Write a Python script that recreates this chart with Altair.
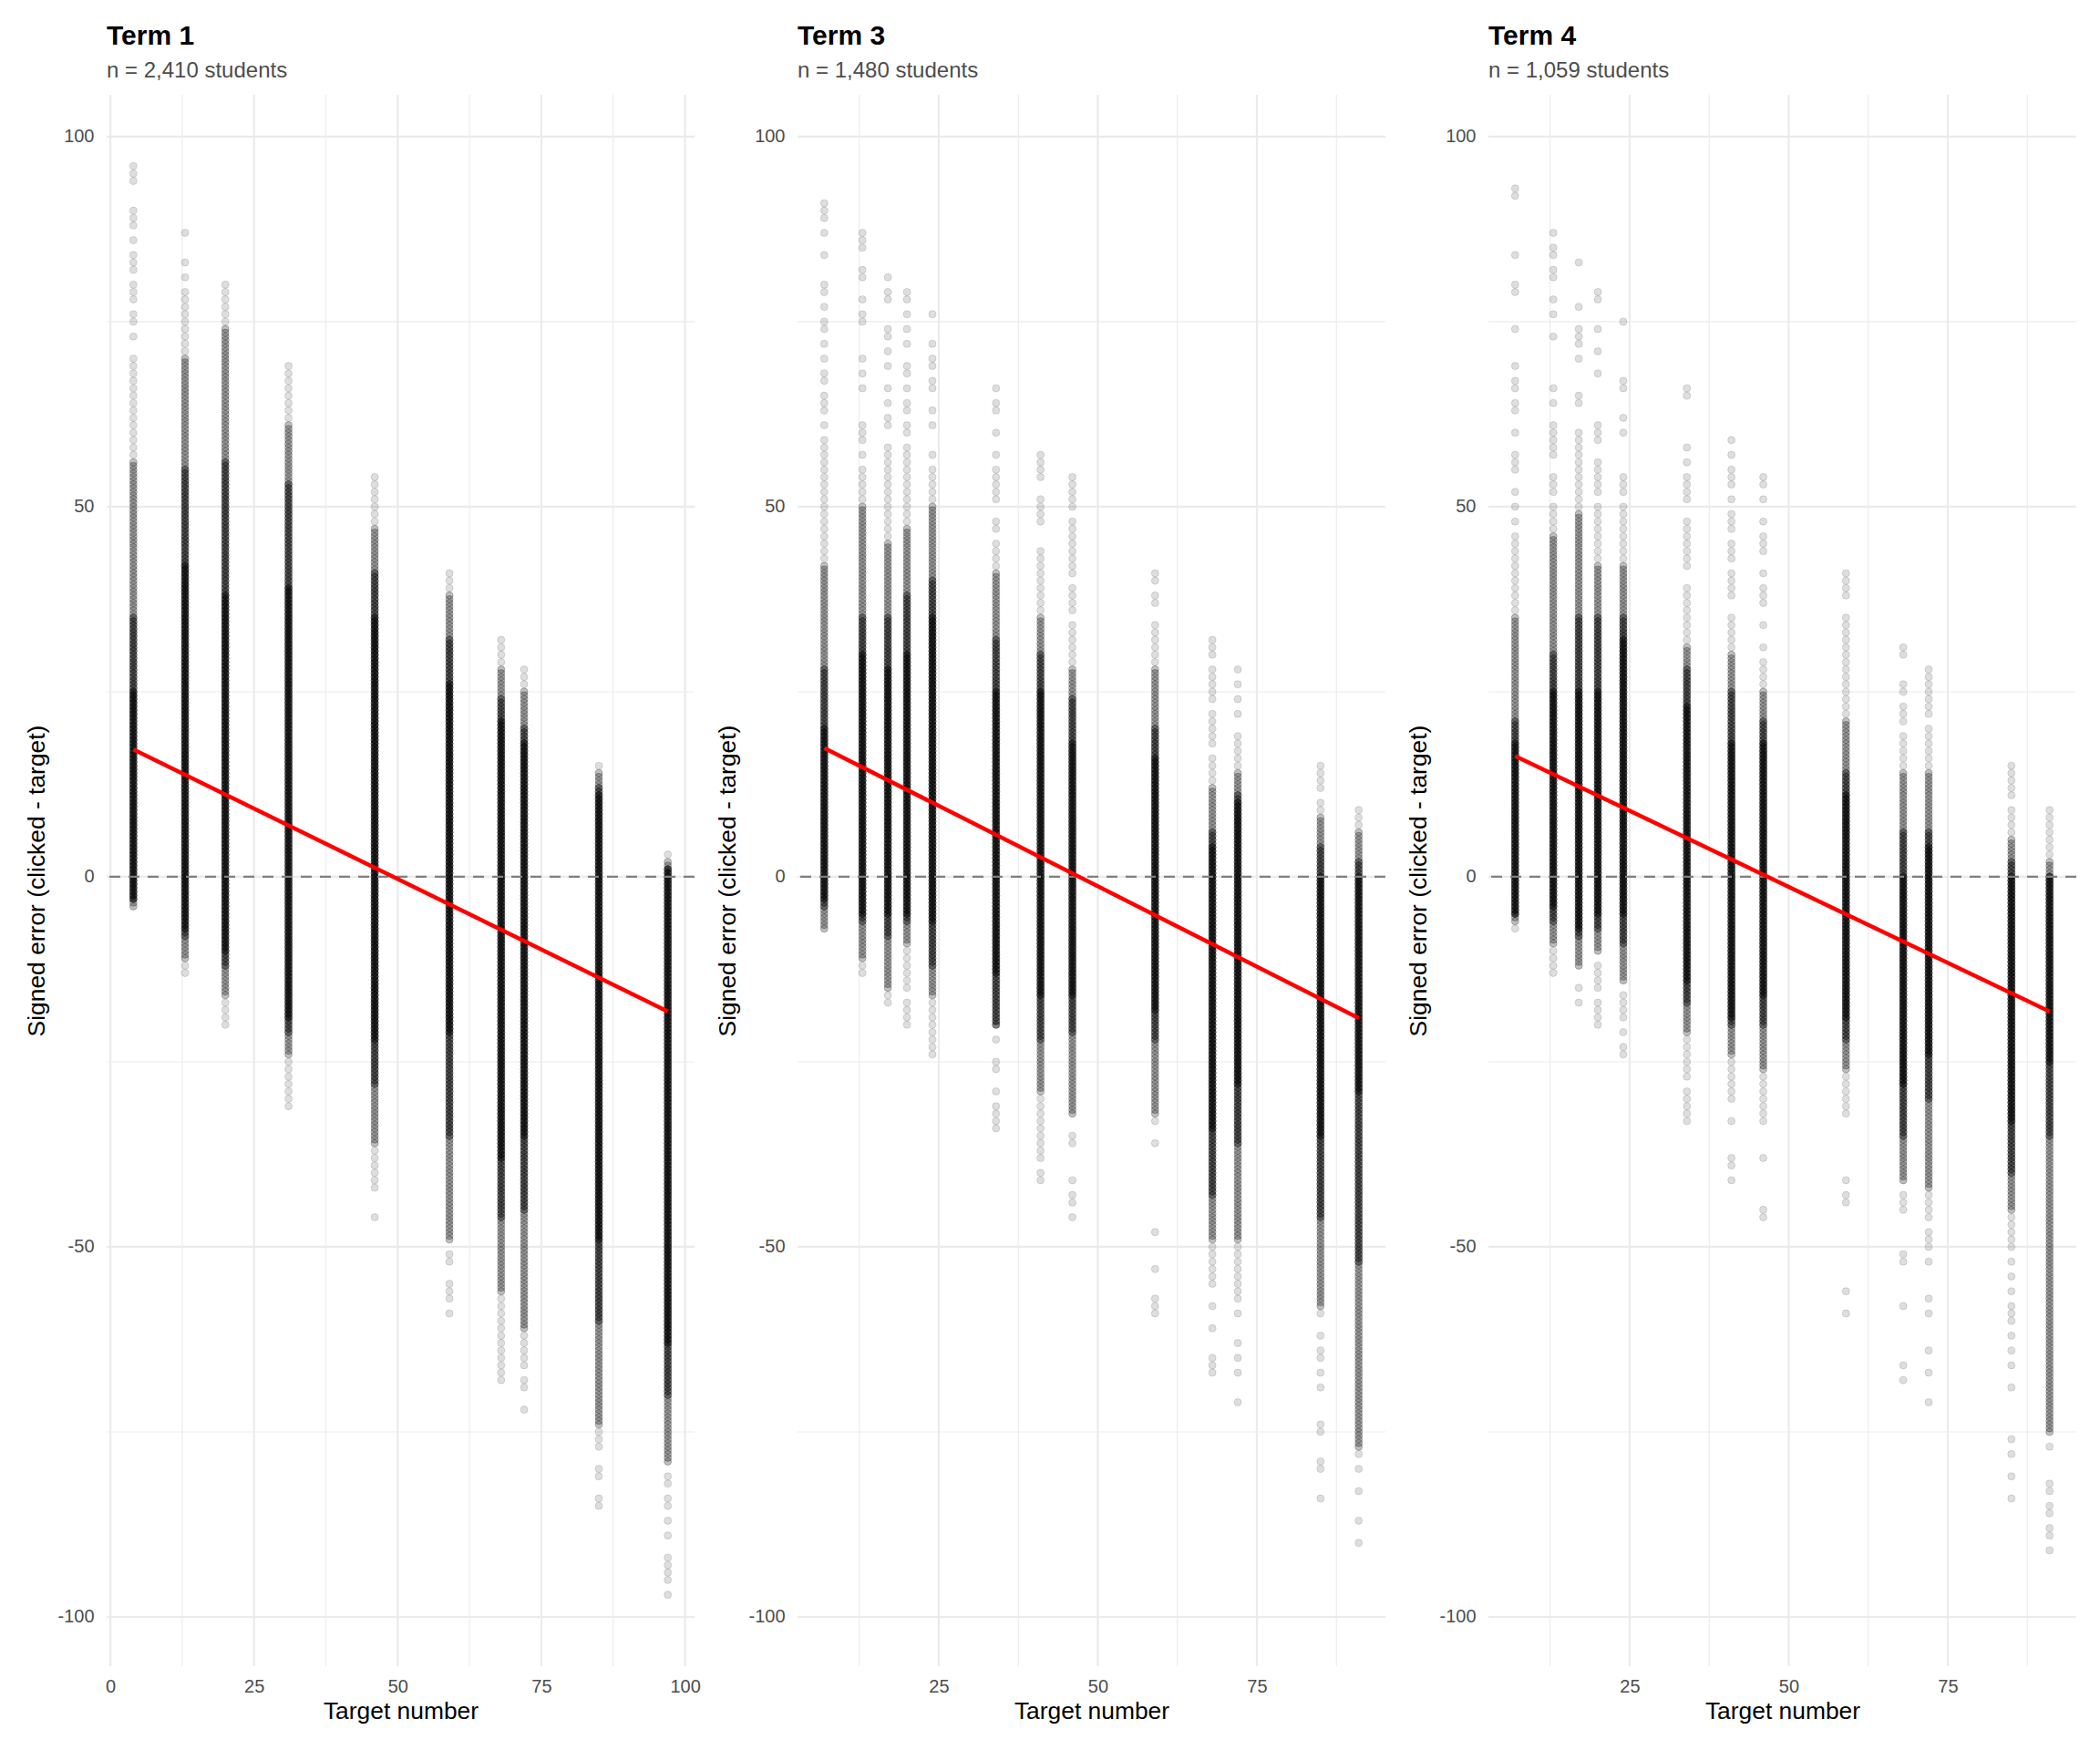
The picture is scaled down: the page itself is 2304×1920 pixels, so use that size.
import altair as alt
import pandas as pd

FONT = "Liberation Sans"

panel_titles = ["Term 1", "Term 3", "Term 4"]
panel_subtitles = ["n = 2,410 students", "n = 1,480 students", "n = 1,059 students"]

# ---- Term 1 (columns) ----
t1_targets = [4, 13, 20, 31, 46, 59, 68, 72, 85, 97]
t1_solid = [[-3, 25], [-7, 42], [-10, 38], [-19, 39], [-22, 35], [-21, 26], [-38, 21], [-35, 18], [-49, 11], [-63, 1]]
t1_dark = [[-3, 35], [-8, 55], [-12, 56], [-21, 53], [-28, 41], [-35, 32], [-46, 24], [-45, 20], [-60, 12], [-70, 1]]
t1_medium = [[-4, 56], [-11, 70], [-16, 74], [-24, 61], [-36, 47], [-49, 38], [-56, 28], [-61, 25], [-74, 14], [-79, 2]]
t1_light = [[-4, 70], [-13, 79], [-20, 80], [-31, 69], [-42, 54], [-49, 41], [-68, 32], [-66, 28], [-77, 15], [-79, 3]]
t1_outliers = [
    [96, 95, 94, 90, 89, 88, 86, 84, 83, 82, 80, 79, 78, 76, 75, 73],
    [81, 83, 87],
    [],
    [],
    [-46],
    [-51, -52, -55, -56, -57, -59],
    [],
    [-68, -69, -72],
    [-80, -81, -84, -85],
    [-81, -82, -84, -85, -87, -89, -92, -93, -94, -95, -97],
]

# ---- Term 3 ----
t3_targets = [7, 13, 17, 20, 24, 34, 41, 46, 59, 68, 72, 85, 91]
t3_solid = [[-3, 20], [-5, 30], [-5, 28], [-5, 30], [-6, 35], [-13, 25], [-16, 25], [-16, 18], [-18, 16], [-34, 4], [-28, 10], [-35, 0], [-29, 0]]
t3_dark = [[-4, 28], [-6, 35], [-8, 35], [-6, 38], [-12, 40], [-20, 32], [-22, 30], [-21, 24], [-22, 20], [-43, 6], [-36, 11], [-46, 4], [-52, 2]]
t3_medium = [[-7, 42], [-11, 50], [-15, 45], [-9, 47], [-16, 50], [-20, 41], [-29, 35], [-32, 28], [-32, 28], [-49, 12], [-49, 14], [-58, 8], [-77, 6]]
t3_light = [[-7, 59], [-13, 55], [-15, 57], [-9, 57], [-24, 55], [-20, 45], [-38, 40], [-32, 34], [-32, 33], [-55, 16], [-57, 18], [-58, 9], [-78, 8]]
t3_outliers = [
    [91, 90, 89, 87, 84, 80, 79, 77, 75, 74, 72, 70, 68, 67, 65, 64, 63, 61],
    [87, 86, 85, 82, 81, 78, 76, 75, 70, 68, 66, 61, 60, 59, 57],
    [81, 79, 78, 74, 73, 71, 69, 66, 64, 62, 61, 58, -16, -17],
    [79, 78, 76, 74, 72, 69, 68, 66, 64, 63, 61, 60, 58, -10, -11, -12, -13, -14, -15, -17, -18, -19, -20],
    [76, 72, 70, 69, 67, 66, 63, 61, 57],
    [66, 64, 63, 60, 57, 55, 54, 53, 52, 51, 48, 47, -22, -25, -26, -29, -31, -32, -33, -34],
    [57, 56, 55, 54, 51, 50, 49, 48, 44, 43, 42, 41, -40, -41],
    [54, 53, 52, 51, 50, 48, 47, 46, 45, 44, 43, 42, 41, 39, 38, 37, 36, -35, -36, -41, -43, -44, -46],
    [41, 40, 38, 37, 34, -33, -36, -48, -53, -57, -58, -59],
    [32, 31, 30, 28, 27, 26, 25, 24, 22, 21, 20, 19, 18, -58, -61, -65, -66, -67],
    [28, 26, 24, 22, 19, -59, -63, -65, -67, -71],
    [15, 14, 13, 12, 10, -59, -62, -64, -65, -67, -69, -74, -75, -79, -80, -84],
    [9, -80, -83, -87, -90],
]

# ---- Term 4 ----
t4_targets = [7, 13, 17, 20, 24, 34, 41, 46, 59, 68, 72, 85, 91]
t4_solid = [[-5, 18], [-4, 25], [-7, 25], [-5, 25], [-5, 32], [-14, 23], [-19, 18], [-16, 18], [-19, 11], [-28, 0], [-24, 4], [-33, 0], [-25, 0]]
t4_dark = [[-5, 21], [-6, 30], [-8, 35], [-7, 35], [-9, 35], [-17, 28], [-20, 25], [-20, 21], [-22, 14], [-35, 6], [-30, 6], [-40, 2], [-35, 0]]
t4_medium = [[-6, 35], [-9, 46], [-12, 49], [-10, 42], [-14, 42], [-21, 31], [-24, 30], [-26, 25], [-26, 21], [-41, 14], [-42, 14], [-45, 5], [-75, 2]]
t4_light = [[-6, 46], [-10, 50], [-12, 60], [-10, 50], [-14, 50], [-27, 35], [-24, 35], [-32, 29], [-32, 35], [-41, 19], [-43, 20], [-45, 8], [-75, 5]]
t4_outliers = [
    [93, 92, 84, 80, 79, 74, 69, 67, 66, 64, 63, 60, 57, 56, 55, 52, 50, 48, -7],
    [87, 85, 84, 82, 81, 78, 76, 73, 66, 64, 61, 60, 59, 58, 57, 54, 53, 52, -11, -12, -13],
    [83, 77, 74, 73, 72, 70, 65, 64, -15, -17],
    [79, 78, 74, 71, 68, 61, 60, 59, 56, 55, 54, 53, 52, -12, -13, -14, -15, -17, -18, -19, -20],
    [75, 67, 66, 62, 60, 54, 53, 52, -16, -17, -18, -19, -21, -23, -24],
    [66, 65, 58, 56, 54, 53, 52, 51, 48, 47, 46, 45, 44, 43, 42, 39, 38, 37, 36, -29, -30, -31, -32, -33],
    [59, 57, 55, 54, 53, 51, 49, 48, 47, 45, 44, 43, 41, 40, 39, 38, -25, -26, -27, -28, -29, -30, -33, -38, -39, -41],
    [54, 53, 51, 48, 46, 45, 44, 41, 39, 38, 37, 34, 31, -33, -38, -45, -46],
    [41, 40, 39, 38, -41, -43, -44, -56, -59],
    [31, 30, 26, 25, 23, 22, 21, -43, -44, -45, -51, -52, -58, -66, -68],
    [28, 27, 26, 25, 24, 23, 22, -44, -45, -46, -48, -49, -50, -52, -57, -59, -64, -67, -71],
    [15, 14, 13, 12, 11, 9, -46, -47, -48, -49, -50, -52, -54, -56, -58, -59, -60, -62, -64, -66, -69, -76, -78, -81, -84],
    [9, 8, 7, 6, -77, -82, -83, -85, -86, -88, -89, -91],
]

# Linear fit end points
fit_x = [[4, 97], [7, 91], [7, 91]]
fit_y = [[17.2, -18.2], [17.4, -19.1], [16.3, -18.2]]

# Axes
x_domains = [[-0.65, 101.65], [2.8, 95.2], [2.8, 95.2]]
y_domain = [-106.65, 105.65]
x_major = [[0, 25, 50, 75, 100], [25, 50, 75], [25, 50, 75]]
x_minor = [[12.5, 37.5, 62.5, 87.5], [12.5, 37.5, 62.5, 87.5], [12.5, 37.5, 62.5, 87.5]]
y_major = [-100, -50, 0, 50, 100]
y_minor = [-75, -25, 25, 75]

# opacity for density levels 1 (sparse) .. 4 (solid)
level_alpha = {1: 0.18, 2: 0.36, 3: 0.7, 4: 1.0}


def build_points(targets, solid, dark, medium, light, outliers):
    rows = []
    for i, t in enumerate(targets):
        lo, hi = light[i]
        # dense clicks are recorded at half-unit resolution, sparse ones at whole units
        for h in range(2 * lo, 2 * hi + 1):
            v = h / 2
            if solid[i][0] <= v <= solid[i][1]:
                lvl = 4
            elif dark[i][0] <= v <= dark[i][1]:
                lvl = 3
            elif medium[i][0] <= v <= medium[i][1]:
                lvl = 2
            else:
                lvl = 1
            if lvl == 1 and h % 2:
                continue
            rows.append({"target": t, "error": v, "alpha": level_alpha[lvl]})
        for v in outliers[i]:
            if not (lo <= v <= hi):
                rows.append({"target": t, "error": v, "alpha": level_alpha[1]})
    return pd.DataFrame(rows)


points = [
    build_points(t1_targets, t1_solid, t1_dark, t1_medium, t1_light, t1_outliers),
    build_points(t3_targets, t3_solid, t3_dark, t3_medium, t3_light, t3_outliers),
    build_points(t4_targets, t4_solid, t4_dark, t4_medium, t4_light, t4_outliers),
]

PW, PH = 645, 1724
GRID = "#ebebeb"
LABEL_EXPR = "datum.value < 0 ? '-' + format(-datum.value, 'd') : format(datum.value, 'd')"


def panel(k):
    xs = alt.Scale(domain=x_domains[k], nice=False, zero=False)
    ys = alt.Scale(domain=y_domain, nice=False, zero=False)
    xaxis = alt.Axis(values=x_major[k], title="Target number", grid=False, ticks=False, tickSize=0,
                     domain=False, labelPadding=12, labelFontSize=20, labelColor="#4d4d4d",
                     titleFontSize=26.4, titleColor="black", titleFontWeight="normal", titlePadding=4,
                     labelFont=FONT, titleFont=FONT, labelExpr=LABEL_EXPR)
    yaxis = alt.Axis(values=y_major, title="Signed error (clicked - target)", grid=False, ticks=False,
                     tickSize=0, domain=False, labelPadding=14, labelFontSize=20, labelColor="#4d4d4d",
                     titleFontSize=26.4, titleColor="black", titleFontWeight="normal", titlePadding=8,
                     labelFont=FONT, titleFont=FONT, labelExpr=LABEL_EXPR)

    vmin = alt.Chart(pd.DataFrame({"v": x_minor[k]})).mark_rule(color=GRID, strokeWidth=1.1).encode(
        x=alt.X("v:Q", scale=xs, axis=xaxis))
    vmaj = alt.Chart(pd.DataFrame({"v": x_major[k]})).mark_rule(color=GRID, strokeWidth=2.2).encode(
        x=alt.X("v:Q", scale=xs, axis=xaxis))
    hmin = alt.Chart(pd.DataFrame({"v": y_minor})).mark_rule(color=GRID, strokeWidth=1.1).encode(
        y=alt.Y("v:Q", scale=ys, axis=yaxis))
    hmaj = alt.Chart(pd.DataFrame({"v": y_major})).mark_rule(color=GRID, strokeWidth=2.2).encode(
        y=alt.Y("v:Q", scale=ys, axis=yaxis))

    pts = alt.Chart(points[k]).mark_circle(color="black", stroke="black", strokeWidth=1, size=64).encode(
        x=alt.X("target:Q", scale=xs, axis=xaxis),
        y=alt.Y("error:Q", scale=ys, axis=yaxis),
        fillOpacity=alt.FillOpacity("alpha:Q", scale=None),
        strokeOpacity=alt.StrokeOpacity("alpha:Q", scale=None),
    )

    zero = alt.Chart(pd.DataFrame({"v": [0]})).mark_rule(color="#7f7f7f", strokeWidth=2.2, strokeDash=[12, 9]).encode(
        y=alt.Y("v:Q", scale=ys, axis=yaxis))

    fit = alt.Chart(pd.DataFrame({"x": fit_x[k], "y": fit_y[k]})).mark_line(color="#ff0000", strokeWidth=4.5).encode(
        x=alt.X("x:Q", scale=xs, axis=xaxis),
        y=alt.Y("y:Q", scale=ys, axis=yaxis),
    )

    return alt.layer(vmin, vmaj, hmin, hmaj, pts, zero, fit).properties(
        width=PW, height=PH,
        title=alt.TitleParams(
            text=panel_titles[k], subtitle=panel_subtitles[k], anchor="start", frame="group",
            font=FONT, fontSize=30, fontWeight="bold", color="black",
            subtitleFont=FONT, subtitleFontSize=24, subtitleColor="#4d4d4d",
            subtitlePadding=11, offset=13,
        ),
    )


chart = alt.hconcat(panel(0), panel(1), panel(2), spacing=113, bounds="flush").properties(
    padding={"left": 19, "top": 16, "right": 10, "bottom": 5}
).configure(font=FONT, background="white").configure_view(stroke=None)

chart.save("out.html", embed_options={"renderer": "svg", "actions": False})
